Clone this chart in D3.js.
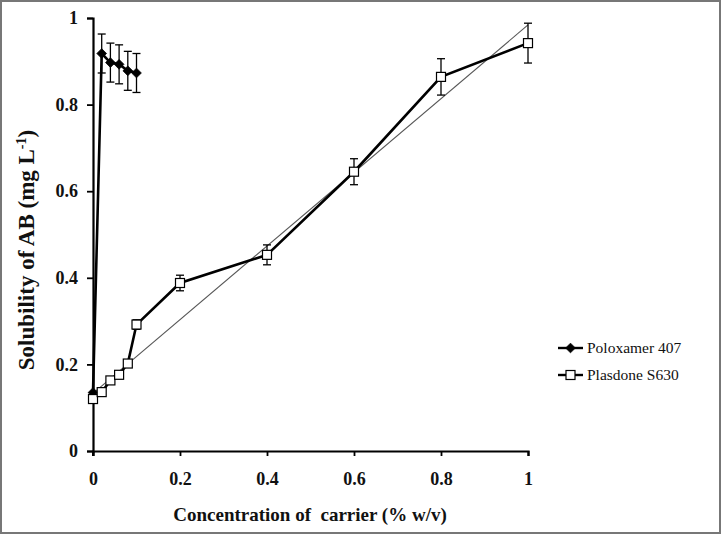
<!DOCTYPE html>
<html><head><meta charset="utf-8">
<script src="https://cdn.jsdelivr.net/npm/d3@7"></script>
<style>html,body{margin:0;padding:0;background:#fff}</style>
</head><body>
<svg id="chart" width="721" height="536"></svg>
<script>
const xTicks = [0, 0.2, 0.4, 0.6, 0.8, 1];
const xTickLabels = ["0", "0.2", "0.4", "0.6", "0.8", "1"];
const yTicks = [0, 0.2, 0.4, 0.6, 0.8, 1];
const yTickLabels = ["0", "0.2", "0.4", "0.6", "0.8", "1"];

const poloX = [0, 0.02, 0.04, 0.06, 0.08, 0.1];
const poloY = [0.135, 0.918, 0.897, 0.893, 0.878, 0.873];
const poloErr = [0, 0.045, 0.045, 0.045, 0.045, 0.045];

const plasX = [0, 0.02, 0.04, 0.06, 0.08, 0.1, 0.2, 0.4, 0.6, 0.8, 1];
const plasY = [0.12, 0.136, 0.163, 0.176, 0.202, 0.292, 0.388, 0.453, 0.645, 0.864, 0.942];
const plasErr = [0.006, 0.006, 0.006, 0.006, 0.006, 0.011, 0.018, 0.023, 0.03, 0.042, 0.046];

const trendX = [0, 1];
const trendY = [0.133, 0.984];

const seriesNames = ["Poloxamer 407", "Plasdone S630"];

const svg = d3.select("#chart");
const x = d3.scaleLinear().domain([0, 1]).range([93, 528]);
const y = d3.scaleLinear().domain([0, 1]).range([451, 18]);

// frame
svg.append("rect").attr("x", 1).attr("y", 1).attr("width", 719).attr("height", 532)
  .attr("fill", "none").attr("stroke", "#777").attr("stroke-width", 2);

const font = "'Times New Roman','Liberation Serif','DejaVu Serif',serif";

// axes
const xAxis = d3.axisBottom(x).tickValues(xTicks).tickFormat((d, i) => xTickLabels[i]).tickSizeOuter(0).tickSize(5).tickPadding(16);
const yAxis = d3.axisLeft(y).tickValues(yTicks).tickFormat((d, i) => yTickLabels[i]).tickSizeOuter(0).tickSize(6).tickPadding(9);

const gx = svg.append("g").attr("transform", `translate(0,${y(0)})`).call(xAxis);
const gy = svg.append("g").attr("transform", `translate(${x(0)},0)`).call(yAxis);
[gx, gy].forEach(g => {
  g.attr("font-family", null);
  g.select(".domain").attr("stroke", "#000").attr("stroke-width", 2.2);
  g.selectAll(".tick line").attr("stroke", "#000").attr("stroke-width", 1.8);
  g.selectAll(".tick text").attr("fill", "#111").attr("font-family", font).style("font-family", font)
    .style("font-size", "18px").style("font-weight", "bold");
});
// y-axis extends slightly below x-axis
svg.append("line").attr("x1", x(0)).attr("x2", x(0)).attr("y1", y(0)).attr("y2", y(0) + 5)
  .attr("stroke", "#000").attr("stroke-width", 2);

// trend line
svg.append("line").attr("x1", x(trendX[0])).attr("y1", y(trendY[0]))
  .attr("x2", x(trendX[1])).attr("y2", y(trendY[1]))
  .attr("stroke", "#555").attr("stroke-width", 1.1);

const line = d3.line().x(d => x(d[0])).y(d => y(d[1]));

function drawSeries(xs, ys, es, marker) {
  const pts = xs.map((v, i) => [v, ys[i], es[i]]);
  const g = svg.append("g");
  pts.forEach(p => {
    if (p[2] <= 0) return;
    const cx = x(p[0]), t = y(p[1] + p[2]), b = y(p[1] - p[2]);
    g.append("line").attr("x1", cx).attr("x2", cx).attr("y1", t).attr("y2", b).attr("stroke", "#000").attr("stroke-width", 1.3);
    g.append("line").attr("x1", cx - 4).attr("x2", cx + 4).attr("y1", t).attr("y2", t).attr("stroke", "#000").attr("stroke-width", 1.3);
    g.append("line").attr("x1", cx - 4).attr("x2", cx + 4).attr("y1", b).attr("y2", b).attr("stroke", "#000").attr("stroke-width", 1.3);
  });
  g.append("path").datum(pts).attr("d", line).attr("fill", "none").attr("stroke", "#000").attr("stroke-width", 2.6);
  pts.forEach(p => drawMarker(g, marker, x(p[0]), y(p[1])));
}

function drawMarker(g, marker, cx, cy) {
  if (marker === "diamond") {
    g.append("path").attr("d", d3.symbol().type(d3.symbolDiamond2).size(60)()).attr("transform", `translate(${cx},${cy})`)
      .attr("fill", "#000").attr("stroke", "#000").attr("stroke-width", 0.8);
  } else {
    g.append("rect").attr("x", cx - 4.5).attr("y", cy - 4.5).attr("width", 9).attr("height", 9)
      .attr("fill", "#fff").attr("stroke", "#000").attr("stroke-width", 1.2);
  }
}

drawSeries(poloX, poloY, poloErr, "diamond");
drawSeries(plasX, plasY, plasErr, "square");

// axis titles
svg.append("text").attr("x", 310).attr("y", 521).attr("text-anchor", "middle")
  .attr("font-family", font).style("font-size", "19px").style("font-weight", "bold").attr("fill", "#111")
  .attr("xml:space", "preserve").text("Concentration of  carrier (% w/v)");

const yl = svg.append("text").attr("transform", "translate(34,250) rotate(-90)").attr("text-anchor", "middle")
  .attr("font-family", font).style("font-size", "23px").style("font-weight", "bold").attr("fill", "#111");
yl.append("tspan").text("Solubility of AB (mg L");
yl.append("tspan").attr("dy", -8).style("font-size", "14px").text("-1");
yl.append("tspan").attr("dy", 8).text(")");

// legend
const legY = [348, 375];
const markers = ["diamond", "square"];
seriesNames.forEach((name, i) => {
  const g = svg.append("g");
  g.append("line").attr("x1", 558).attr("x2", 583).attr("y1", legY[i]).attr("y2", legY[i]).attr("stroke", "#000").attr("stroke-width", 2.4);
  drawMarker(g, markers[i], 570.5, legY[i]);
  g.append("text").attr("x", 587).attr("y", legY[i] + 5).attr("font-family", font).style("font-size", "15.5px").attr("fill", "#111").text(name);
});
</script>
</body></html>
